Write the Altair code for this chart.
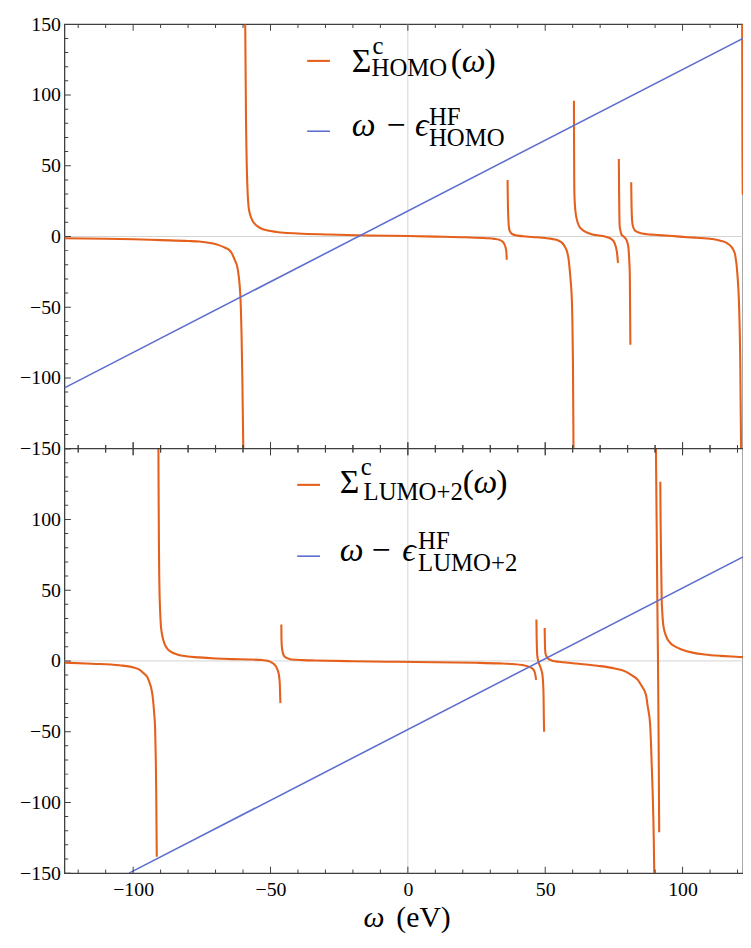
import altair as alt
import pandas as pd

# ---------------- data ----------------
# Upper panel: correlation self-energy of the HOMO, one list per branch (x = omega in eV, y in eV)
homo_b1 = [(-125, -1.2), (-110, -1.6), (-100, -2.0), (-90, -2.6), (-80, -3.2), (-76, -3.6), (-72, -4.6),
           (-68.8, -6.1), (-66.5, -8.0), (-65.2, -9.3), (-64.2, -11.5), (-63.4, -14.7), (-62.7, -18.0),
           (-62.2, -20.6), (-61.6, -27.5), (-61.25, -34.0), (-61.0, -41.0), (-60.8, -50.0), (-60.55, -68.0),
           (-60.25, -100.0), (-59.9, -150.0)]
homo_b2 = [(-59.2, 150), (-58.9, 80), (-58.6, 47), (-58.3, 30), (-58.0, 21.5), (-57.5, 16), (-56.8, 12.1),
           (-55.0, 7.5), (-52.0, 4.7), (-46.0, 2.8), (-40.0, 2.1), (-29.0, 1.4), (-15.0, 0.7), (0.0, 0.3),
           (10.0, -0.1), (21.0, -0.6), (28.5, -1.2), (31.5, -1.7), (33.3, -2.4), (34.4, -3.5), (35.1, -5.4),
           (35.7, -8.9), (35.9, -12.0), (36.0, -16.5)]
homo_b3 = [(36.3, 40), (36.4, 25), (36.5, 16.8), (36.9, 5.1), (37.3, 3.2), (38.1, 1.6), (40.0, 0.6), (43.0, 0.0),
           (47.0, -0.6), (51.3, -1.4), (53.5, -2.1), (54.9, -3.0), (56.3, -4.8), (57.3, -7.7), (58.0, -11.0),
           (58.5, -15.9), (59.1, -27.5), (59.45, -36.0), (59.7, -45.0), (59.9, -60.0), (60.1, -90.0),
           (60.3, -150.0)]
homo_b4 = [(60.45, 96), (60.5, 70), (60.55, 45), (60.65, 28.5), (61.0, 18), (61.5, 12.1), (62.3, 7.5),
           (63.3, 5.1), (65.0, 3.0), (66.9, 1.6), (69.0, 0.8), (71.7, 0.0), (73.0, -0.7), (74.1, -1.9),
           (75.0, -3.5), (75.6, -6.5), (76.2, -12.4), (76.5, -18.7)]
homo_b5 = [(76.8, 54.7), (76.9, 30), (77.0, 15), (77.1, 7.5), (77.4, 4), (77.7, 1.6), (78.3, 0.3), (78.9, -0.7),
           (79.5, -2.2), (79.9, -4.2), (80.3, -8), (80.5, -13.5), (80.8, -27.5), (80.9, -50), (81.0, -76.6)]
homo_b6 = [(81.3, 38.3), (81.4, 25), (81.6, 12.1), (81.9, 7.5), (82.5, 4.7), (83.5, 3.2), (84.9, 2.3), (87, 1.6),
           (89.7, 1.2), (95, 0.5), (101.7, -0.5), (105, -0.9), (108.9, -1.4), (111.5, -2.0), (113.8, -3.0),
           (116, -4.5), (117.4, -6.5), (118.5, -9.5), (119.2, -13.5), (120, -27.5), (120.6, -51), (121, -88),
           (121.3, -150)]
homo_b7 = [(121.7, 150), (121.8, 60), (121.9, 29.6)]

# Upper panel straight line  omega - eps_HOMO^HF  (end points)
homo_line = [(-125, -107), (122, 140)]

# Lower panel: correlation self-energy of the LUMO+2
lumo_b1 = [(-125, -1.2), (-115, -2.0), (-105, -3.1), (-100.1, -4.5), (-97.7, -6.2), (-96.5, -8.2), (-94.7, -12.0),
           (-94.1, -15.0), (-93.5, -18.5), (-92.9, -25.0), (-92.3, -38.0), (-92.0, -48.0), (-91.75, -70.0),
           (-91.6, -92.0), (-91.4, -138.4)]
lumo_b2 = [(-90.8, 150), (-90.7, 110), (-90.6, 80), (-90.5, 60), (-90.35, 45), (-90.15, 34), (-89.9, 25.1),
           (-89.4, 18), (-88.6, 12.3), (-87.5, 8.5), (-86.2, 6.4), (-84, 4.6), (-82, 3.6), (-76, 2.5), (-70, 1.75),
           (-64, 1.3), (-58, 1.05), (-53, 0.6), (-50.8, 0), (-49.5, -1.2), (-48.4, -2.9), (-47.7, -5),
           (-47.2, -7.6), (-46.8, -12), (-46.6, -17), (-46.4, -29.8)]
lumo_b3 = [(-46.05, 25.8), (-46.0, 15), (-45.8, 8.8), (-45.3, 4.5), (-44.8, 2.9), (-43.5, 1.7), (-42.4, 1.05),
           (-38, 0.6), (-34, 0.35), (-20, -0.2), (-4, -0.6), (10, -0.9), (25, -1.3), (33.3, -1.75), (38, -2.2),
           (41.7, -2.9), (44, -4), (45.3, -5.3), (46.0, -7), (46.3, -8.8), (46.7, -13.4)]
lumo_b4 = [(46.8, 29.3), (46.9, 15), (47.0, 8), (47.1, 4.1), (47.4, 0.5), (47.7, -1.75), (48.2, -4), (48.6, -6.4),
           (49.0, -10), (49.2, -14.6), (49.4, -25), (49.5, -40), (49.6, -50)]
lumo_b5 = [(49.8, 23.3), (49.9, 12), (50.1, 5.3), (50.6, 2.8), (51.3, 1.3), (53, 0), (54.9, -0.6), (60, -1.6),
           (65, -2.5), (69, -3.4), (75.3, -5.3), (78.9, -7.2), (81.3, -9.9), (83.7, -13.4), (84.9, -17),
           (86.7, -24), (87.3, -32), (88.2, -45), (88.8, -75), (89.1, -92), (89.5, -124), (89.7, -150)]
lumo_b6 = [(90.3, 150), (90.6, 90), (90.8, 44), (91.05, 2), (91.3, -60), (91.5, -121)]
lumo_b7 = [(91.9, 126.7), (92.0, 100), (92.2, 70), (92.4, 43.8), (92.6, 35), (93.0, 25.1), (93.9, 18.1),
           (95.7, 12.3), (97.5, 10), (99.4, 8.3), (104.1, 5.7), (108, 4.6), (113.8, 3.6), (118, 3.1), (122, 2.7)]

# Lower panel straight line  omega - eps_LUMO+2^HF
lumo_line = [(-101.5, -150), (122, 73.5)]

# axis ticks / labels
x_major = [-100, -50, 0, 50, 100]
x_minor = [-120, -110, -90, -80, -70, -60, -40, -30, -20, -10, 10, 20, 30, 40, 60, 70, 80, 90, 110, 120]
y_major = [-150, -100, -50, 0, 50, 100, 150]
y_minor = [-140, -130, -120, -110, -90, -80, -70, -60, -40, -30, -20, -10,
           10, 20, 30, 40, 60, 70, 80, 90, 110, 120, 130, 140]
y_label_values = [-150, -100, -50, 0, 50, 100, 150, 200, 250, 300, 350, 400, 450]  # stacked-panel positions
zero_levels = [0]
panel_edges = [-150, 150]

# ---------------- tables ----------------
def branch_rows(panel, branches):
    rows = []
    for b, pts in enumerate(branches):
        for i, (x, y) in enumerate(pts):
            rows.append({"panel": panel, "branch": b, "i": i, "x": x, "y": y})
    return rows

sigma_df = pd.DataFrame(
    branch_rows("top", [homo_b1, homo_b2, homo_b3, homo_b4, homo_b5, homo_b6, homo_b7])
    + branch_rows("bottom", [lumo_b1, lumo_b2, lumo_b3, lumo_b4, lumo_b5, lumo_b6, lumo_b7])
)
line_df = pd.DataFrame(branch_rows("top", [homo_line]) + branch_rows("bottom", [lumo_line]))
zero_df = pd.DataFrame([{"panel": p, "y": v} for p in ["top", "bottom"] for v in zero_levels])
xzero_df = pd.DataFrame({"x": [0]})
border_df = pd.DataFrame([{"panel": "top", "y": panel_edges[0]}])

ytick_df = pd.DataFrame(
    [{"panel": p, "y": v, "kind": "major"} for p in ["top", "bottom"] for v in y_major]
    + [{"panel": p, "y": v, "kind": "minor"} for p in ["top", "bottom"] for v in y_minor]
)
ytick_df["x"] = -125
xtick_df = pd.DataFrame(
    [{"panel": p, "y": e, "x": v, "kind": "major"} for p in ["top", "bottom"] for e in panel_edges for v in x_major]
    + [{"panel": p, "y": e, "x": v, "kind": "minor"} for p in ["top", "bottom"] for e in panel_edges for v in x_minor]
)

# ---------------- styling ----------------
W, H = 685, 857
ORANGE = "#E5601C"
BLUE = "#5D6FCE"
FRAME = "#3f3f3f"
SERIF = "Liberation Serif, Times New Roman, DejaVu Serif, serif"

xs = alt.Scale(domain=[-125, 122], nice=False, zero=False)
ys = alt.Scale(domain=[-150, 450], nice=False, zero=False)
SHIFT = "datum.panel == 'top' ? datum.y + 300 : datum.y"

y_axis = alt.Axis(
    values=y_label_values,
    labelExpr="datum.value >= 150 ? format(datum.value - 300, 'd') : format(datum.value, 'd')",
    tickSize=0, domain=False, grid=False, title=None, labelPadding=4,
    labelFont=SERIF, labelFontSize=20, labelColor="black",
)
x_axis = alt.Axis(values=x_major, tickSize=0, domain=False, grid=False, title=None, labelPadding=7,
                  labelFont=SERIF, labelFontSize=20, labelColor="black")

def X(field="x"):
    return alt.X(f"{field}:Q", scale=xs, axis=x_axis)

def Y():
    return alt.Y("yy:Q", scale=ys, axis=y_axis)

zero_h = alt.Chart(zero_df).transform_calculate(yy=SHIFT).mark_rule(
    color="#d2d2d2", strokeWidth=1).encode(y=Y())
zero_v = alt.Chart(xzero_df).mark_rule(color="#d2d2d2", strokeWidth=1).encode(x=X())

sigma = alt.Chart(sigma_df).transform_calculate(yy=SHIFT).mark_line(
    color=ORANGE, strokeWidth=2.1, clip=True, interpolate="monotone").encode(
    x=X(), y=Y(), detail=["panel:N", "branch:N"], order="i:Q")

lines = alt.Chart(line_df).transform_calculate(yy=SHIFT).mark_line(
    color=BLUE, strokeWidth=1.6, clip=True).encode(x=X(), y=Y(), detail="panel:N", order="i:Q")

border = alt.Chart(border_df).transform_calculate(yy=SHIFT).mark_rule(
    color=FRAME, strokeWidth=1.3).encode(y=Y())

def ticks(df, kind, orient, size):
    return alt.Chart(df).transform_calculate(yy=SHIFT).transform_filter(
        f"datum.kind == '{kind}'").mark_tick(
        orient=orient, size=size, thickness=1, color=FRAME, clip=True, opacity=1).encode(x=X(), y=Y())

tick_layers = [
    ticks(ytick_df, "major", "horizontal", 13),
    ticks(ytick_df, "minor", "horizontal", 7.5),
    ticks(xtick_df, "major", "vertical", 13),
    ticks(xtick_df, "minor", "vertical", 7.5),
]

def txt(s, x, y, size, italic=False):
    return alt.Chart(alt.Data(values=[{}])).mark_text(
        text=s, font=SERIF, fontSize=size, fontStyle="italic" if italic else "normal",
        align="left", baseline="alphabetic", color="black").encode(x=alt.value(x), y=alt.value(y))

def swatch(color, x1, x2, y, w):
    return alt.Chart(alt.Data(values=[{}])).mark_rule(color=color, strokeWidth=w).encode(
        x=alt.value(x1), x2=alt.value(x2), y=alt.value(y))

BIG, SMALL = 34, 25
legend = [
    # upper panel
    swatch(ORANGE, 245, 268, 37, 2.1),
    txt("Σ", 290, 48, BIG), txt("c", 311, 30, SMALL), txt("HOMO", 310, 52, SMALL),
    txt("(", 390, 48, BIG), txt("ω", 401, 48, BIG, True), txt(")", 424, 48, BIG),
    swatch(BLUE, 245, 268, 108, 1.6),
    txt("ω", 290, 113, BIG, True), txt("−", 325, 113, BIG), txt("ϵ", 354, 113, BIG, True),
    txt("HF", 368, 102, SMALL), txt("HOMO", 368, 123, SMALL),
    # lower panel
    swatch(ORANGE, 235, 258, 465, 2.1),
    txt("Σ", 278, 473, BIG), txt("c", 299, 455, SMALL), txt("LUMO+2", 302, 480, SMALL),
    txt("(", 402, 473, BIG), txt("ω", 413, 473, BIG, True), txt(")", 436, 473, BIG),
    swatch(BLUE, 235, 258, 537, 1.6),
    txt("ω", 278, 542, BIG, True), txt("−", 310, 542, BIG), txt("ϵ", 341, 542, BIG, True),
    txt("HF", 357, 530, SMALL), txt("LUMO+2", 357, 552, SMALL),
    # x-axis title
    txt("ω", 302, 911, 30, True), txt("(eV)", 335, 911, 30),
]

chart = alt.layer(zero_h, zero_v, sigma, lines, border, *tick_layers, *legend).properties(
    width=W, height=H,
    autosize=alt.AutoSizeParams(type="none"),
    padding={"left": 57, "top": 12, "right": 0, "bottom": 56},
).configure_view(stroke=FRAME, strokeWidth=1.3)

chart.save("out.html", embed_options={"renderer": "svg", "actions": False})
